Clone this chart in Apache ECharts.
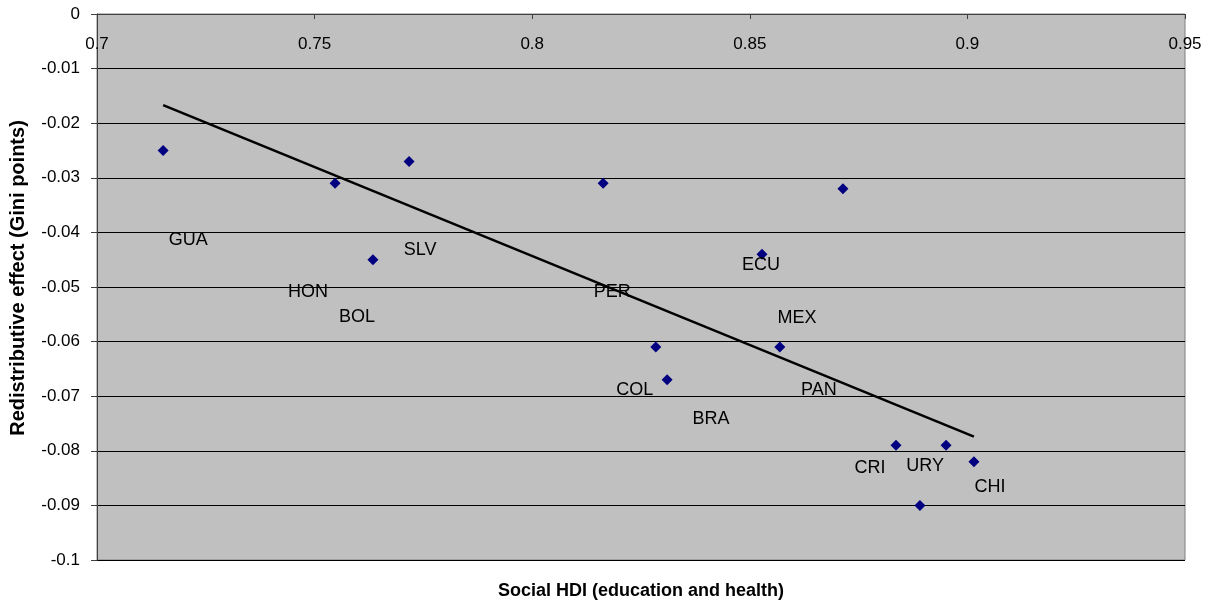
<!DOCTYPE html>
<html>
<head>
<meta charset="utf-8">
<script src="https://cdn.jsdelivr.net/npm/echarts@6/dist/echarts.min.js"></script>
<style>
  html, body { margin: 0; padding: 0; background: #fff; }
  #chart { width: 1211px; height: 602px; }
</style>
</head>
<body>
<div id="chart"></div>
<script>
// Country codes, social HDI (x) and redistributive effect in Gini points (y)
const countries = ['GUA', 'HON', 'BOL', 'SLV', 'PER', 'ECU', 'MEX', 'COL', 'BRA', 'PAN', 'CRI', 'URY', 'CHI', ''];
const socialHDI = [0.7152, 0.7547, 0.7634, 0.7717, 0.8163, 0.8528, 0.8714, 0.8284, 0.8310, 0.8569, 0.8836, 0.8951, 0.9015, 0.8891];
const redistEffect = [-0.025, -0.031, -0.045, -0.027, -0.031, -0.044, -0.032, -0.061, -0.067, -0.061, -0.079, -0.079, -0.082, -0.090];

// Linear trend line end points
const trendX = [0.7152, 0.9015];
const trendY = [-0.0167, -0.0774];

// Axis ticks
const xTicks = [0.7, 0.75, 0.8, 0.85, 0.9, 0.95];
const yTicks = [0, -0.01, -0.02, -0.03, -0.04, -0.05, -0.06, -0.07, -0.08, -0.09, -0.1];

// Where each country's label sits relative to its marker (pixels)
const labelOffsets = [[25, 90], [-27, 109], [-16, 57], [11, 89], [9, 109], [-1, 11], [-46, 129],
  [-21, 43], [44, 39], [39, 43], [-26, 23], [-21, 21], [16, 25], [0, 0]];

const FONT = '"Liberation Sans", Arial, sans-serif';

const points = countries.map((c, i) => ({
  value: [socialHDI[i], redistEffect[i]],
  name: c,
  label: { offset: labelOffsets[i] }
}));

const fmt = v => String(parseFloat(Number(v).toFixed(2)));

const chart = echarts.init(document.getElementById('chart'));
chart.setOption({
  animation: false,
  backgroundColor: '#ffffff',
  grid: {
    left: 97, right: 26, top: 14, bottom: 42,
    outerBoundsMode: 'none', containLabel: false,
    show: true, backgroundColor: '#C0C0C0', borderColor: '#808080', borderWidth: 1
  },
  xAxis: {
    type: 'value', position: 'top',
    min: xTicks[0], max: xTicks[xTicks.length - 1], interval: 0.05,
    axisLine: { show: true, onZero: false, lineStyle: { color: '#404040', width: 1 } },
    axisTick: { show: true, inside: true, length: 5, lineStyle: { color: '#404040' } },
    axisLabel: { inside: true, margin: 22, color: '#000', fontFamily: FONT, fontSize: 17, formatter: fmt, showMinLabel: true, showMaxLabel: true },
    splitLine: { show: false }
  },
  yAxis: {
    type: 'value',
    min: yTicks[yTicks.length - 1], max: yTicks[0], interval: 0.01,
    axisLine: { show: true, lineStyle: { color: '#404040', width: 1 } },
    axisTick: { show: true, inside: false, length: 6, lineStyle: { color: '#404040' } },
    axisLabel: { color: '#000', fontFamily: FONT, fontSize: 17, margin: 17, formatter: fmt },
    splitLine: { show: true, lineStyle: { color: '#000', width: 1 } }
  },
  graphic: [
    {
      type: 'text', x: 641, y: 591,
      style: {
        text: 'Social HDI (education and health)', textAlign: 'center', textVerticalAlign: 'middle',
        fill: '#000', font: 'bold 18px ' + FONT
      }
    },
    {
      type: 'text', x: 18, y: 278, rotation: Math.PI / 2,
      style: {
        text: 'Redistributive effect (Gini points)', textAlign: 'center', textVerticalAlign: 'middle',
        fill: '#000', font: 'bold 20px ' + FONT
      }
    }
  ],
  series: [
    {
      type: 'line',
      data: trendX.map((x, i) => [x, trendY[i]]),
      symbol: 'none',
      lineStyle: { color: '#000', width: 2.5 },
      z: 3
    },
    {
      type: 'scatter',
      data: points,
      symbol: 'diamond', symbolSize: 11,
      itemStyle: { color: '#000080', opacity: 1 },
      label: {
        show: true, position: 'inside', formatter: p => p.name,
        color: '#000', fontFamily: FONT, fontSize: 18
      },
      z: 4
    }
  ]
});
</script>
</body>
</html>
